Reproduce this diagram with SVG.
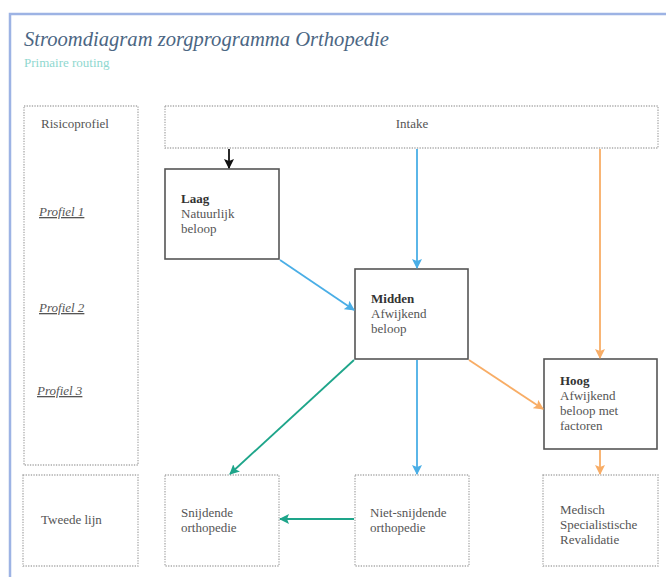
<svg xmlns="http://www.w3.org/2000/svg" width="666" height="577" viewBox="0 0 666 577">
<defs>
<style>
text{font-family:"Liberation Serif","DejaVu Serif",serif;font-size:13px;fill:#555}
.b{font-weight:bold;fill:#333}
.dot{fill:#fff;stroke:#aaa;stroke-width:1.3;stroke-dasharray:1.3 1.3}
.solid{fill:#fff;stroke:#555;stroke-width:1.6}
.prof{font-style:italic;text-decoration:underline}
.c{fill:none;stroke-width:1.8}
</style>
<marker id="mk" markerWidth="10" markerHeight="10" refX="9" refY="5" orient="auto" markerUnits="userSpaceOnUse"><path d="M0,0 L10,5 L0,10 L2,5 Z" fill="#111"/></marker>
<marker id="mb" markerWidth="10" markerHeight="10" refX="9" refY="5" orient="auto" markerUnits="userSpaceOnUse"><path d="M0,0 L10,5 L0,10 L2,5 Z" fill="#4aaee6"/></marker>
<marker id="mo" markerWidth="10" markerHeight="10" refX="9" refY="5" orient="auto" markerUnits="userSpaceOnUse"><path d="M0,0 L10,5 L0,10 L2,5 Z" fill="#f8ad66"/></marker>
<marker id="mt" markerWidth="10" markerHeight="10" refX="9" refY="5" orient="auto" markerUnits="userSpaceOnUse"><path d="M0,0 L10,5 L0,10 L2,5 Z" fill="#1ea58a"/></marker>
</defs>
<rect width="666" height="577" fill="#fff"/>
<path d="M10,577 V14 H666" fill="none" stroke="#9db3e4" stroke-width="2.5"/>
<g id="title">
<text x="24" y="46" style="font-size:20.6px;font-style:italic;fill:#4b6683">Stroomdiagram zorgprogramma Orthopedie</text>
<text x="24" y="67" style="font-size:13px;fill:#8fd8cf">Primaire routing</text>
</g>
<g id="risicoprofiel">
<rect class="dot" x="24" y="106" width="114" height="359"/>
<text x="75" y="128" text-anchor="middle">Risicoprofiel</text>
<text class="prof" x="39" y="216">Profiel 1</text>
<text class="prof" x="39" y="312">Profiel 2</text>
<text class="prof" x="37" y="395">Profiel 3</text>
</g>
<g id="intake">
<rect class="dot" x="165" y="106" width="493" height="42"/>
<text x="412" y="128" text-anchor="middle">Intake</text>
</g>
<g id="tweede-lijn">
<rect class="dot" x="23" y="475" width="115" height="91"/>
<text x="41" y="524">Tweede lijn</text>
</g>
<g id="snijdende">
<rect class="dot" x="165" y="475" width="114" height="91"/>
<text x="181" y="517">Snijdende</text>
<text x="181" y="532">orthopedie</text>
</g>
<g id="niet-snijdende">
<rect class="dot" x="355" y="475" width="114" height="91"/>
<text x="370" y="517">Niet-snijdende</text>
<text x="370" y="532">orthopedie</text>
</g>
<g id="msr">
<rect class="dot" x="543" y="475" width="115" height="91"/>
<text x="560" y="514">Medisch</text>
<text x="560" y="529">Specialistische</text>
<text x="560" y="544">Revalidatie</text>
</g>
<g id="laag">
<rect class="solid" x="165" y="169" width="114" height="90"/>
<text class="b" x="181" y="203">Laag</text>
<text x="181" y="218">Natuurlijk</text>
<text x="181" y="233">beloop</text>
</g>
<g id="midden">
<rect class="solid" x="355" y="269" width="113" height="90"/>
<text class="b" x="371" y="303">Midden</text>
<text x="371" y="318">Afwijkend</text>
<text x="371" y="333">beloop</text>
</g>
<g id="hoog">
<rect class="solid" x="544" y="359" width="113" height="90"/>
<text class="b" x="560" y="385">Hoog</text>
<text x="560" y="400">Afwijkend</text>
<text x="560" y="415">beloop met</text>
<text x="560" y="430">factoren</text>
</g>
<g id="connectors">
<line class="c" x1="229" y1="149" x2="229" y2="168" stroke="#111" marker-end="url(#mk)"/>
<line class="c" x1="417" y1="149" x2="417" y2="268" stroke="#4aaee6" marker-end="url(#mb)"/>
<line class="c" x1="600" y1="149" x2="600" y2="358" stroke="#f8ad66" marker-end="url(#mo)"/>
<line class="c" x1="280" y1="260" x2="354" y2="310" stroke="#4aaee6" marker-end="url(#mb)"/>
<line class="c" x1="469" y1="360" x2="543" y2="409" stroke="#f8ad66" marker-end="url(#mo)"/>
<line class="c" x1="354" y1="360" x2="230" y2="474" stroke="#1ea58a" marker-end="url(#mt)"/>
<line class="c" x1="417" y1="360" x2="417" y2="474" stroke="#4aaee6" marker-end="url(#mb)"/>
<line class="c" x1="600" y1="450" x2="600" y2="474" stroke="#f8ad66" marker-end="url(#mo)"/>
<line class="c" x1="354" y1="519" x2="280" y2="519" stroke="#1ea58a" marker-end="url(#mt)"/>
</g>
</svg>
